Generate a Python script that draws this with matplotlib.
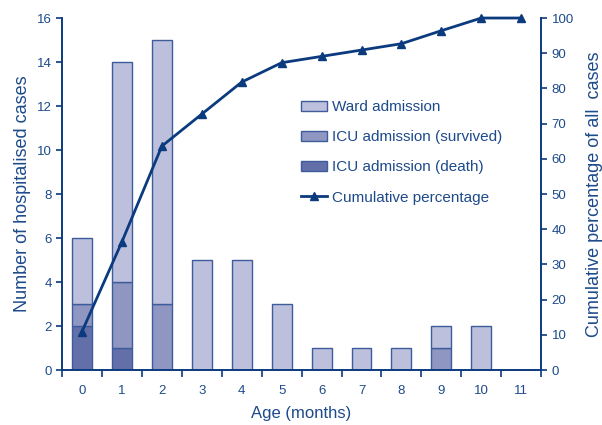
import numpy as np
import matplotlib
matplotlib.use("Agg")
import matplotlib.pyplot as plt

plt.rcParams['font.family'] = ['Liberation Sans', 'DejaVu Sans']

ages = ['0', '1', '2', '3', '4', '5', '6', '7', '8', '9', '10', '11']
icu_death = [2, 1, 0, 0, 0, 0, 0, 0, 0, 0, 0, 0]
icu_survived = [1, 3, 3, 0, 0, 0, 0, 0, 0, 1, 0, 0]
ward = [3, 10, 12, 5, 5, 3, 1, 1, 1, 1, 2, 0]
cum_pct = [10.9, 36.4, 63.6, 72.7, 81.8, 87.3, 89.1, 90.9, 92.7, 96.4, 100, 100]

navy = '#0b3a7e'
txt = '#1d4a8a'
edge = '#3d5c9c'
c_ward = '#bcc0dc'
c_surv = '#8e96c1'
c_death = '#636fa8'

fig = plt.figure(figsize=(6.02, 4.25), dpi=100)
ax = fig.add_axes([0.103, 0.1294, 0.796, 0.8282])
ax2 = ax.twinx()

x = np.arange(len(ages))
death = np.array(icu_death)
surv = np.array(icu_survived)
wd = np.array(ward)

b1 = ax.bar(x, death, 0.5, color=c_death, edgecolor=edge, linewidth=1)
b2 = ax.bar(x, surv, 0.5, bottom=death, color=c_surv, edgecolor=edge, linewidth=1)
b3 = ax.bar(x, wd, 0.5, bottom=death + surv, color=c_ward, edgecolor=edge, linewidth=1)

ln, = ax2.plot(x, cum_pct, color=navy, lw=2, marker='^', ms=6, clip_on=False)

ax.set_xlim(-0.5, 11.5)
ax.set_ylim(0, 16)
ax2.set_ylim(0, 100)
ax.set_yticks(range(0, 17, 2))
ax2.set_yticks(range(0, 101, 10))
ax.set_xticks(x)
ax.set_xticklabels(ages)
ax.set_xticks(np.arange(-0.5, 12, 1), minor=True)

for a in (ax, ax2):
    for s in a.spines.values():
        s.set_color(navy)
        s.set_linewidth(1.2)
    a.spines['top'].set_visible(False)
    a.tick_params(colors=navy, labelcolor=txt, labelsize=9.5, width=1.2, length=4)

ax.tick_params(axis='x', which='major', length=0, pad=11)
ax.tick_params(axis='x', which='minor', length=5, width=1.2, color=navy)

ax.set_ylabel('Number of hospitalised cases', color=txt, fontsize=13, labelpad=4)
ax2.set_ylabel('Cumulative percentage of all  cases', color=txt, fontsize=13, labelpad=9)
ax.set_xlabel('Age (months)', color=txt, fontsize=12, labelpad=6)

leg = ax.legend([b3, b2, b1, ln],
                ['Ward admission', 'ICU admission (survived)', 'ICU admission (death)', 'Cumulative percentage'],
                loc='upper left', bbox_to_anchor=(0.47, 0.805), frameon=False,
                fontsize=11, labelspacing=1.05, handlelength=1.7, handletextpad=0.3)
for t in leg.get_texts():
    t.set_color(txt)

fig.savefig('out.png', dpi=100)
